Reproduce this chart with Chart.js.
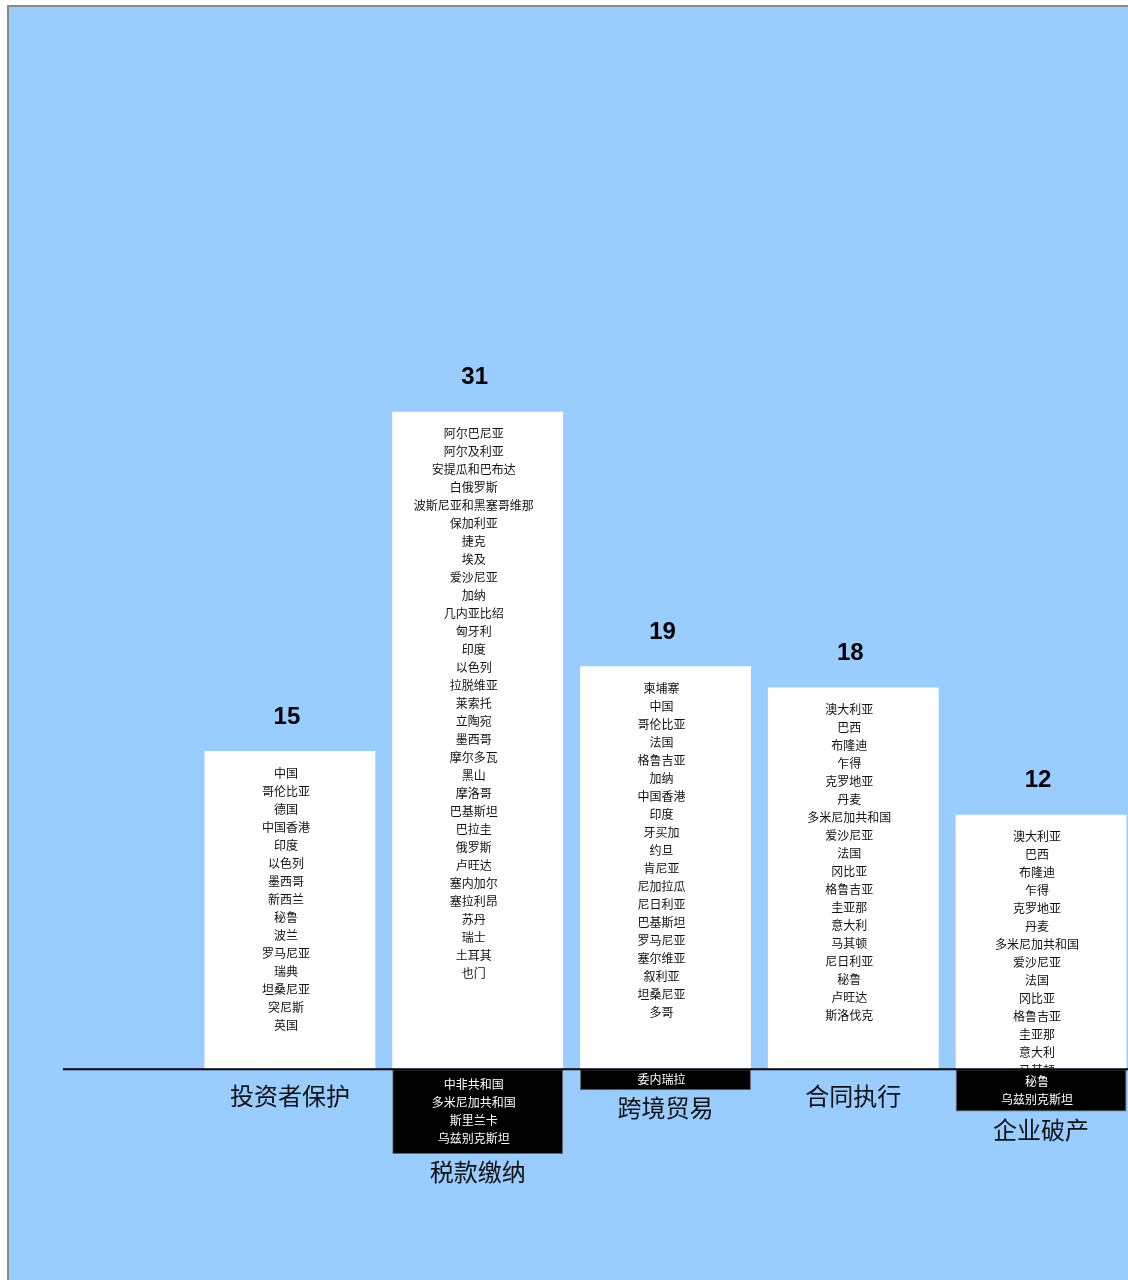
<!DOCTYPE html>
<html>
<head>
<meta charset="utf-8">
<script src="https://cdn.jsdelivr.net/npm/chart.js@4"></script>
<style>
  html, body { margin: 0; padding: 0; overflow: hidden; background: #fff; }
  #bg { position: absolute; left: 7px; top: 5px; width: 1300px; height: 1400px;
        background: #99CCFF; border-top: 2px solid #888; border-left: 2px solid #888; }
  #chart { position: absolute; left: 0; top: 0; }
</style>
</head>
<body>
<div id="bg"></div>
<canvas id="chart" width="1136" height="1280"></canvas>
<script>
const categories = ['投资者保护', '税款缴纳', '跨境贸易', '合同执行', '企业破产'];
const improved = [15, 31, 19, 18, 12];
const worsened = [null, -4, -1, null, -2];

const improvedNames = [
  ['中国', '哥伦比亚', '德国', '中国香港', '印度', '以色列', '墨西哥', '新西兰', '秘鲁', '波兰',
   '罗马尼亚', '瑞典', '坦桑尼亚', '突尼斯', '英国'],
  ['阿尔巴尼亚', '阿尔及利亚', '安提瓜和巴布达', '白俄罗斯', '波斯尼亚和黑塞哥维那', '保加利亚',
   '捷克', '埃及', '爱沙尼亚', '加纳', '几内亚比绍', '匈牙利', '印度', '以色列', '拉脱维亚',
   '莱索托', '立陶宛', '墨西哥', '摩尔多瓦', '黑山', '摩洛哥', '巴基斯坦', '巴拉圭', '俄罗斯',
   '卢旺达', '塞内加尔', '塞拉利昂', '苏丹', '瑞士', '土耳其', '也门'],
  ['柬埔寨', '中国', '哥伦比亚', '法国', '格鲁吉亚', '加纳', '中国香港', '印度', '牙买加', '约旦',
   '肯尼亚', '尼加拉瓜', '尼日利亚', '巴基斯坦', '罗马尼亚', '塞尔维亚', '叙利亚', '坦桑尼亚', '多哥'],
  ['澳大利亚', '巴西', '布隆迪', '乍得', '克罗地亚', '丹麦', '多米尼加共和国', '爱沙尼亚', '法国',
   '冈比亚', '格鲁吉亚', '圭亚那', '意大利', '马其顿', '尼日利亚', '秘鲁', '卢旺达', '斯洛伐克'],
  ['澳大利亚', '巴西', '布隆迪', '乍得', '克罗地亚', '丹麦', '多米尼加共和国', '爱沙尼亚', '法国',
   '冈比亚', '格鲁吉亚', '圭亚那', '意大利', '马其顿']
];
const worsenedNames = [
  [],
  ['中非共和国', '多米尼加共和国', '斯里兰卡', '乌兹别克斯坦'],
  ['委内瑞拉'],
  [],
  ['秘鲁', '乌兹别克斯坦']
];

const CJK = '"Noto Sans CJK SC", "Noto Sans", sans-serif';
const lineH = 18;

// names inside the bars, drawn right after each dataset so the black bars cover overflow
const barText = {
  id: 'barText',
  afterDatasetDraw(chart, args) {
    const ctx = chart.ctx;
    const meta = chart.getDatasetMeta(args.index);
    const names = args.index === 1 ? improvedNames : worsenedNames;
    ctx.save();
    ctx.font = '12px ' + CJK;
    ctx.textAlign = 'center';
    ctx.textBaseline = 'middle';
    meta.data.forEach((bar, i) => {
      const list = names[i];
      if (!list || !list.length) return;
      const x = bar.x - 4;
      if (args.index === 1) {
        ctx.fillStyle = '#111';
        list.forEach((n, k) => ctx.fillText(n, x, bar.y + 22 + k * lineH));
      } else {
        ctx.fillStyle = '#fff';
        const top = bar.base, h = bar.y - bar.base;
        const first = top + h / 2 - (list.length - 1) * lineH / 2;
        list.forEach((n, k) => ctx.fillText(n, x, first + k * lineH));
      }
    });
    ctx.restore();
  },
  afterDatasetsDraw(chart) {
    const ctx = chart.ctx;
    const zero = chart.scales.y.getPixelForValue(0);
    const pos = chart.getDatasetMeta(1).data;
    const neg = chart.getDatasetMeta(0).data;
    ctx.save();
    // baseline
    ctx.strokeStyle = '#000';
    ctx.lineWidth = 2;
    ctx.beginPath();
    ctx.moveTo(63, zero);
    ctx.lineTo(chart.width, zero);
    ctx.stroke();
    // values on top
    ctx.fillStyle = '#000';
    ctx.font = 'bold 24px "Liberation Sans", Arial, sans-serif';
    ctx.textAlign = 'center';
    ctx.textBaseline = 'middle';
    pos.forEach((bar, i) => ctx.fillText(improved[i], bar.x - 3, bar.y - 34));
    // category names under the bars
    ctx.font = '24px ' + CJK;
    ctx.fillStyle = '#111';
    pos.forEach((bar, i) => {
      const y = worsened[i] != null ? neg[i].y + 18 : zero + 27;
      ctx.fillText(categories[i], bar.x, y);
    });
    ctx.restore();
  }
};

new Chart(document.getElementById('chart'), {
  type: 'bar',
  data: {
    labels: categories,
    datasets: [
      { data: worsened, backgroundColor: '#000', borderColor: '#666', borderWidth: 1, borderSkipped: false },
      { data: improved, backgroundColor: '#fff', borderWidth: 0 }
    ]
  },
  options: {
    responsive: false,
    animation: false,
    events: [],
    layout: { padding: { left: 196, right: 1, top: 221, bottom: 20 } },
    datasets: { bar: { categoryPercentage: 1, barPercentage: 0.91 } },
    scales: {
      x: { stacked: true, display: false },
      y: { stacked: true, display: false, min: -9, max: 40 }
    },
    plugins: { legend: { display: false }, tooltip: { enabled: false } }
  },
  plugins: [barText]
});
</script>
</body>
</html>
